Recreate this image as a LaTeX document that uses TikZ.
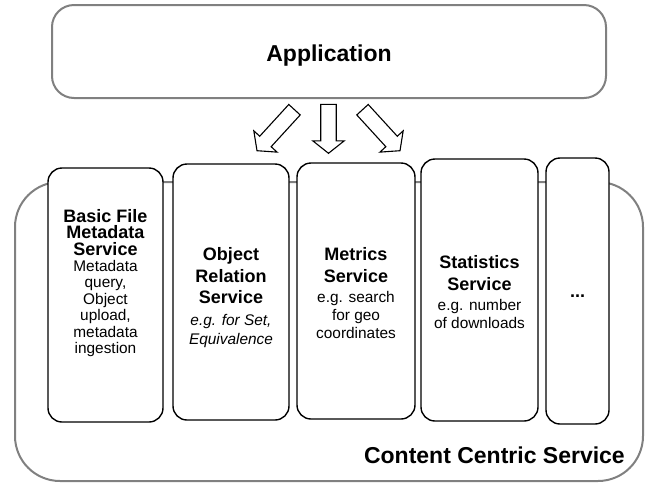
\documentclass[tikz,border=0pt]{standalone}
\usepackage{fontspec}
\setmainfont{Liberation Sans}
\usetikzlibrary{calc}
\definecolor{outl}{RGB}{128,128,128}
\lineskiplimit=-50pt
\newcommand\ttl[1]{{\bfseries\fontsize{18}{14}\selectfont #1}}
\newcommand\blockarr[2]{%
  \path ($(#2)!12.5pt!(#1)$) coordinate (#1h);
  \draw[blockarrow] ($(#1)!7.75pt!90:(#2)$) -- ($(#1h)!7.75pt!-90:(#1)$) -- ($(#1h)!15.75pt!-90:(#1)$) -- (#2)
    -- ($(#1h)!15.75pt!90:(#1)$) -- ($(#1h)!7.75pt!90:(#1)$) -- ($(#1)!7.75pt!-90:(#2)$) -- cycle;}
\begin{document}
\begin{tikzpicture}[x=1pt,y=-1pt,
  graybox/.style={draw=outl, line width=2pt, rounded corners=#1, outer sep=0pt, inner sep=0pt},
  svcbox/.style={draw=black, line width=1.4pt, fill=white, rounded corners=14pt, outer sep=0pt, inner sep=0pt},
  blockarrow/.style={draw=black, line width=1.1pt, fill=white, line join=miter},
  bodytxt/.style={align=center, inner sep=0pt, font=\fontsize{15.4}{18.3}\selectfont},
  bodytight/.style={align=center, inner sep=0pt, font=\fontsize{15.4}{16.4}\selectfont},
  bigtxt/.style={inner sep=0pt, font=\bfseries\fontsize{23}{27}\selectfont}
]
\useasboundingbox (0,0) rectangle (646,483);
% outer container
\node (ccsbox) [graybox=45pt, minimum width=628pt, minimum height=299pt] at (329,331.5) {};
% service boxes
\node (b1) [svcbox, minimum width=115pt, minimum height=254pt] at (105.5,295) {};
\node (b2) [svcbox, minimum width=116pt, minimum height=256pt] at (231,292) {};
\node (b3) [svcbox, minimum width=118pt, minimum height=256pt] at (356,291) {};
\node (b4) [svcbox, minimum width=117pt, minimum height=262pt] at (479.5,290) {};
\node (b5) [svcbox, minimum width=63pt, minimum height=266pt] at (577.5,291) {};
% application
\node (app) [graybox=22pt, minimum width=554pt, minimum height=93pt] at (329,51.5) {};
\node (apptxt) [bigtxt, anchor=base] at (329,61.5) {Application};
% arrows
\coordinate (la) at (294.5,109.7); \coordinate (lb) at (257,150.7);
\coordinate (ma) at (328.5,104.3); \coordinate (mb) at (328.5,153.3);
\coordinate (ra) at (362.5,109.7); \coordinate (rb) at (400,150.7);
\blockarr{la}{lb}
\blockarr{ma}{mb}
\blockarr{ra}{rb}
% texts
\node (t1) [bodytight, anchor=north] at (105.5,209)
  {\ttl{Basic File}\\ \ttl{Metadata}\\ \ttl{Service}\\ Metadata\\ query,\\ Object\\ upload,\\ metadata\\ ingestion};
\node (t2) [bodytxt, anchor=north] at (231,247.4)
  {\ttl{Object}\\[3.2pt]\ttl{Relation}\\[3.2pt]\ttl{Service}\\[4pt]\textit{e.g. for Set,}\\ \textit{Equivalence}};
\node (t3) [bodytxt, anchor=north] at (356,247.7)
  {\ttl{Metrics}\\[3.2pt]\ttl{Service}\\[1.5pt]e.g. search\\ for geo\\ coordinates};
\node (t4) [bodytxt, anchor=north] at (479.5,255.1)
  {\ttl{Statistics}\\[3.6pt]\ttl{Service}\\[1.5pt]e.g. number\\ of downloads};
\node (t5) [anchor=base, inner sep=0pt, font=\bfseries\fontsize{18}{20}\selectfont] at (577.5,297) {...};
\node (ccstxt) [bigtxt, anchor=base east] at (625,463) {Content Centric Service};
\end{tikzpicture}
\end{document}
